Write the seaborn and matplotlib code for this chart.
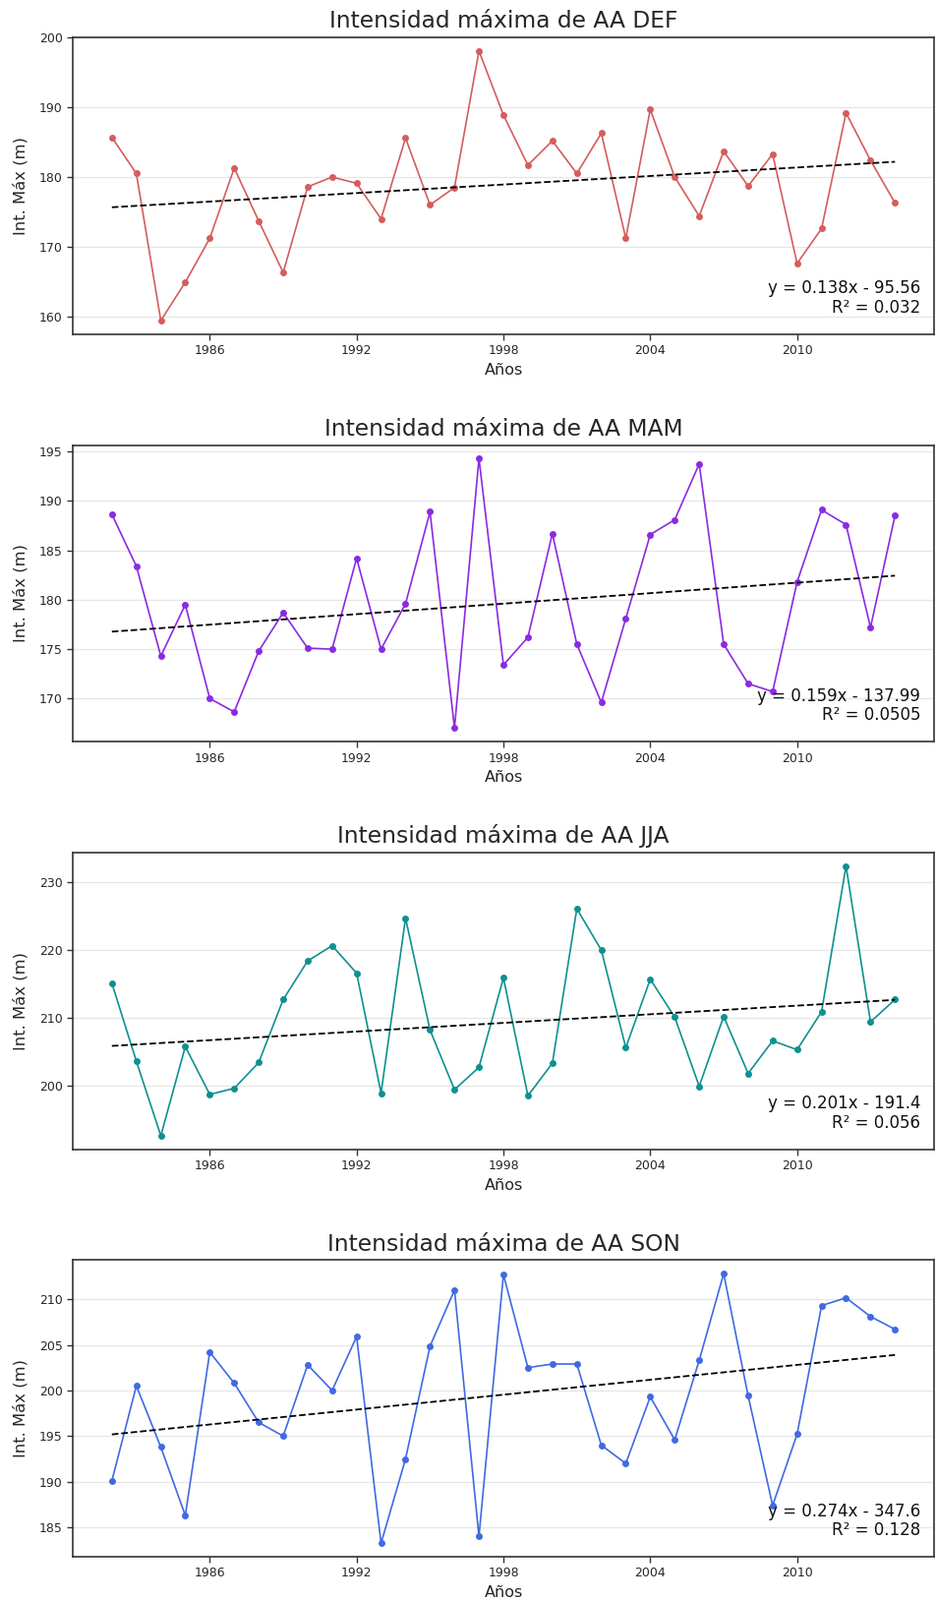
import numpy as np
import pandas as pd
import matplotlib
matplotlib.use("Agg")
import matplotlib.pyplot as plt
import seaborn as sns

years = list(range(1982, 2015))

def_vals = [185.7, 180.5, 159.4, 164.9, 171.2, 181.3, 173.7, 166.3, 178.6, 180.0,
            179.1, 174.0, 185.6, 176.0, 178.5, 198.1, 188.9, 181.7, 185.2, 180.5,
            186.3, 171.2, 189.7, 180.0, 174.4, 183.7, 178.7, 183.3, 167.6, 172.6,
            189.2, 182.4, 176.3]
mam_vals = [188.65, 183.4, 174.3, 179.5, 170.0, 168.65, 174.8, 178.7, 175.1, 175.0,
            184.2, 175.0, 179.6, 188.9, 167.0, 194.3, 173.4, 176.2, 186.7, 175.5,
            169.6, 178.1, 186.6, 188.1, 193.75, 175.5, 171.5, 170.7, 181.8, 189.1,
            187.6, 177.2, 188.5]
jja_vals = [215.1, 203.6, 192.6, 205.75, 198.7, 199.6, 203.4, 212.7, 218.4, 220.65,
            216.6, 198.9, 224.7, 208.2, 199.4, 202.7, 215.9, 198.5, 203.3, 226.1,
            220.0, 205.6, 215.7, 210.1, 199.9, 210.2, 201.8, 206.6, 205.3, 210.9,
            232.4, 209.4, 212.7]
son_vals = [190.1, 200.5, 193.8, 186.3, 204.2, 200.8, 196.5, 195.0, 202.8, 200.0,
            205.9, 183.25, 192.5, 204.85, 211.0, 184.0, 212.7, 202.5, 202.9, 202.9,
            194.0, 192.0, 199.3, 194.6, 203.3, 212.8, 199.4, 187.4, 195.2, 209.3,
            210.15, 208.1, 206.7]

seasons = ["DEF", "MAM", "JJA", "SON"]
series = [def_vals, mam_vals, jja_vals, son_vals]
colors = ["#d45d5d", "#8a2be2", "#0f9090", "#4169e1"]
eq_texts = ["y = 0.138x - 95.56\nR² = 0.032",
            "y = 0.159x - 137.99\nR² = 0.0505",
            "y = 0.201x - 191.4\nR² = 0.056",
            "y = 0.274x - 347.6\nR² = 0.128"]
xticks = [1986, 1992, 1998, 2004, 2010]
yticks = [[160, 170, 180, 190, 200],
          [170, 175, 180, 185, 190, 195],
          [200, 210, 220, 230],
          [185, 190, 195, 200, 205, 210]]

sns.set_style("ticks")
plt.rcParams['font.family'] = ['DejaVu Sans']

fig, axes = plt.subplots(4, 1, figsize=(9.52, 16.27), dpi=100)
fig.subplots_adjust(left=0.0777, right=0.998, top=0.9766, bottom=0.027, hspace=0.374)

for ax, season, vals, col, txt, yt in zip(axes, seasons, series, colors, eq_texts, yticks):
    df = pd.DataFrame({"Año": years, "Val": vals})
    ax.yaxis.grid(True, color="#e6e6e6", linewidth=0.9)
    ax.set_axisbelow(True)
    sns.lineplot(data=df, x="Año", y="Val", ax=ax, color=col, marker="o",
                 markersize=5, markeredgewidth=0, linewidth=1.2)
    coef = np.polyfit(df["Año"], df["Val"], 1)
    trend = pd.DataFrame({"Año": years, "T": np.polyval(coef, years)})
    sns.lineplot(data=trend, x="Año", y="T", ax=ax, color="black",
                 linestyle="--", linewidth=1.3)
    ax.set_title(f"Intensidad máxima de AA {season}", fontsize=16.8, pad=7)
    ax.set_xlabel("Años", fontsize=11.5)
    ax.set_ylabel("Int. Máx (m)", fontsize=11.8, labelpad=8)
    ax.set_xticks(xticks)
    ax.set_yticks(yt)
    ax.tick_params(labelsize=9, length=4, width=1, color="#333333")
    for sp in ax.spines.values():
        sp.set_color("#333333")
        sp.set_linewidth(1.2)
    ax.text(0.984, 0.06, txt, transform=ax.transAxes, ha="right", va="bottom",
            multialignment="right", fontsize=12, color="#111111", linespacing=1.1)

fig.savefig("out.png", dpi=100)
